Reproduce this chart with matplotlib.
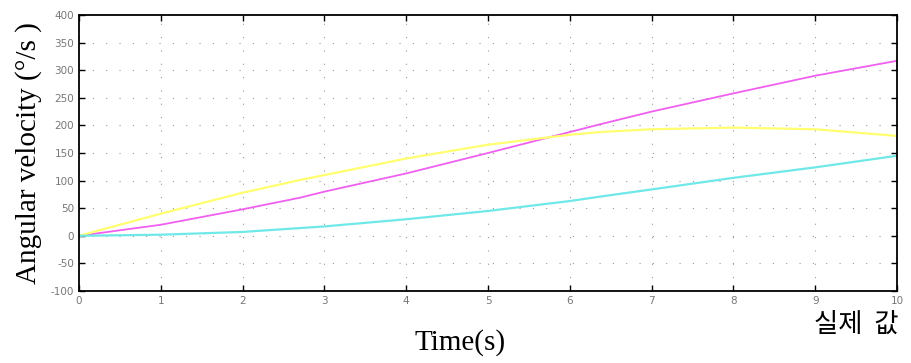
import matplotlib
matplotlib.use("Agg")
import matplotlib.pyplot as plt

plt.rcParams["axes.unicode_minus"] = False

# time points (s) and angular velocities (deg/s)
t = [0, 1, 2, 2.7, 3, 4, 5, 6, 6.37, 7, 8, 9, 10]
magenta = [0, 20, 48, 69, 80, 113, 150, 188, 202, 225, 258, 290, 317]
yellow = [0, 40, 78, 101, 110, 140, 165, 183, 188, 193, 196, 193, 181]
cyan = [0, 2, 7, 14, 17, 30, 45, 63, 71, 84, 105, 124, 145]

xticks = list(range(0, 11))
yticks = list(range(-100, 401, 50))

fig = plt.figure(figsize=(9.12, 3.63), dpi=100)
ax = fig.add_axes([0.0866, 0.1983, 0.897, 0.7604])

ax.plot(t, magenta, color="#f060f0", lw=1.3)
ax.plot(t, yellow, color="#ffff70", lw=1.6)
ax.plot(t, cyan, color="#70e8e8", lw=1.6)

ax.set_xlim(0, 10)
ax.set_ylim(-100, 400)
ax.set_xticks(xticks)
ax.set_yticks(yticks)
ax.grid(True, color="#999999", lw=0.8, linestyle=(0, (1, 11)))
ax.tick_params(direction="in", top=True, right=True, length=4,
               labelsize=7.5, labelcolor="#777777", width=1)
for s in ax.spines.values():
    s.set_linewidth(1.3)

ax.set_ylabel("Angular velocity (°/s )", family="Liberation Serif",
              fontsize=21, labelpad=6)
fig.text(0.505, 0.02, "Time(s)", family="Liberation Serif",
         fontsize=21, ha="center", va="bottom")
fig.text(0.985, 0.07, "실제  값", family=["Noto Sans CJK KR", "DejaVu Sans"],
         fontsize=19, ha="right", va="bottom")

fig.savefig("out.png", dpi=100)
